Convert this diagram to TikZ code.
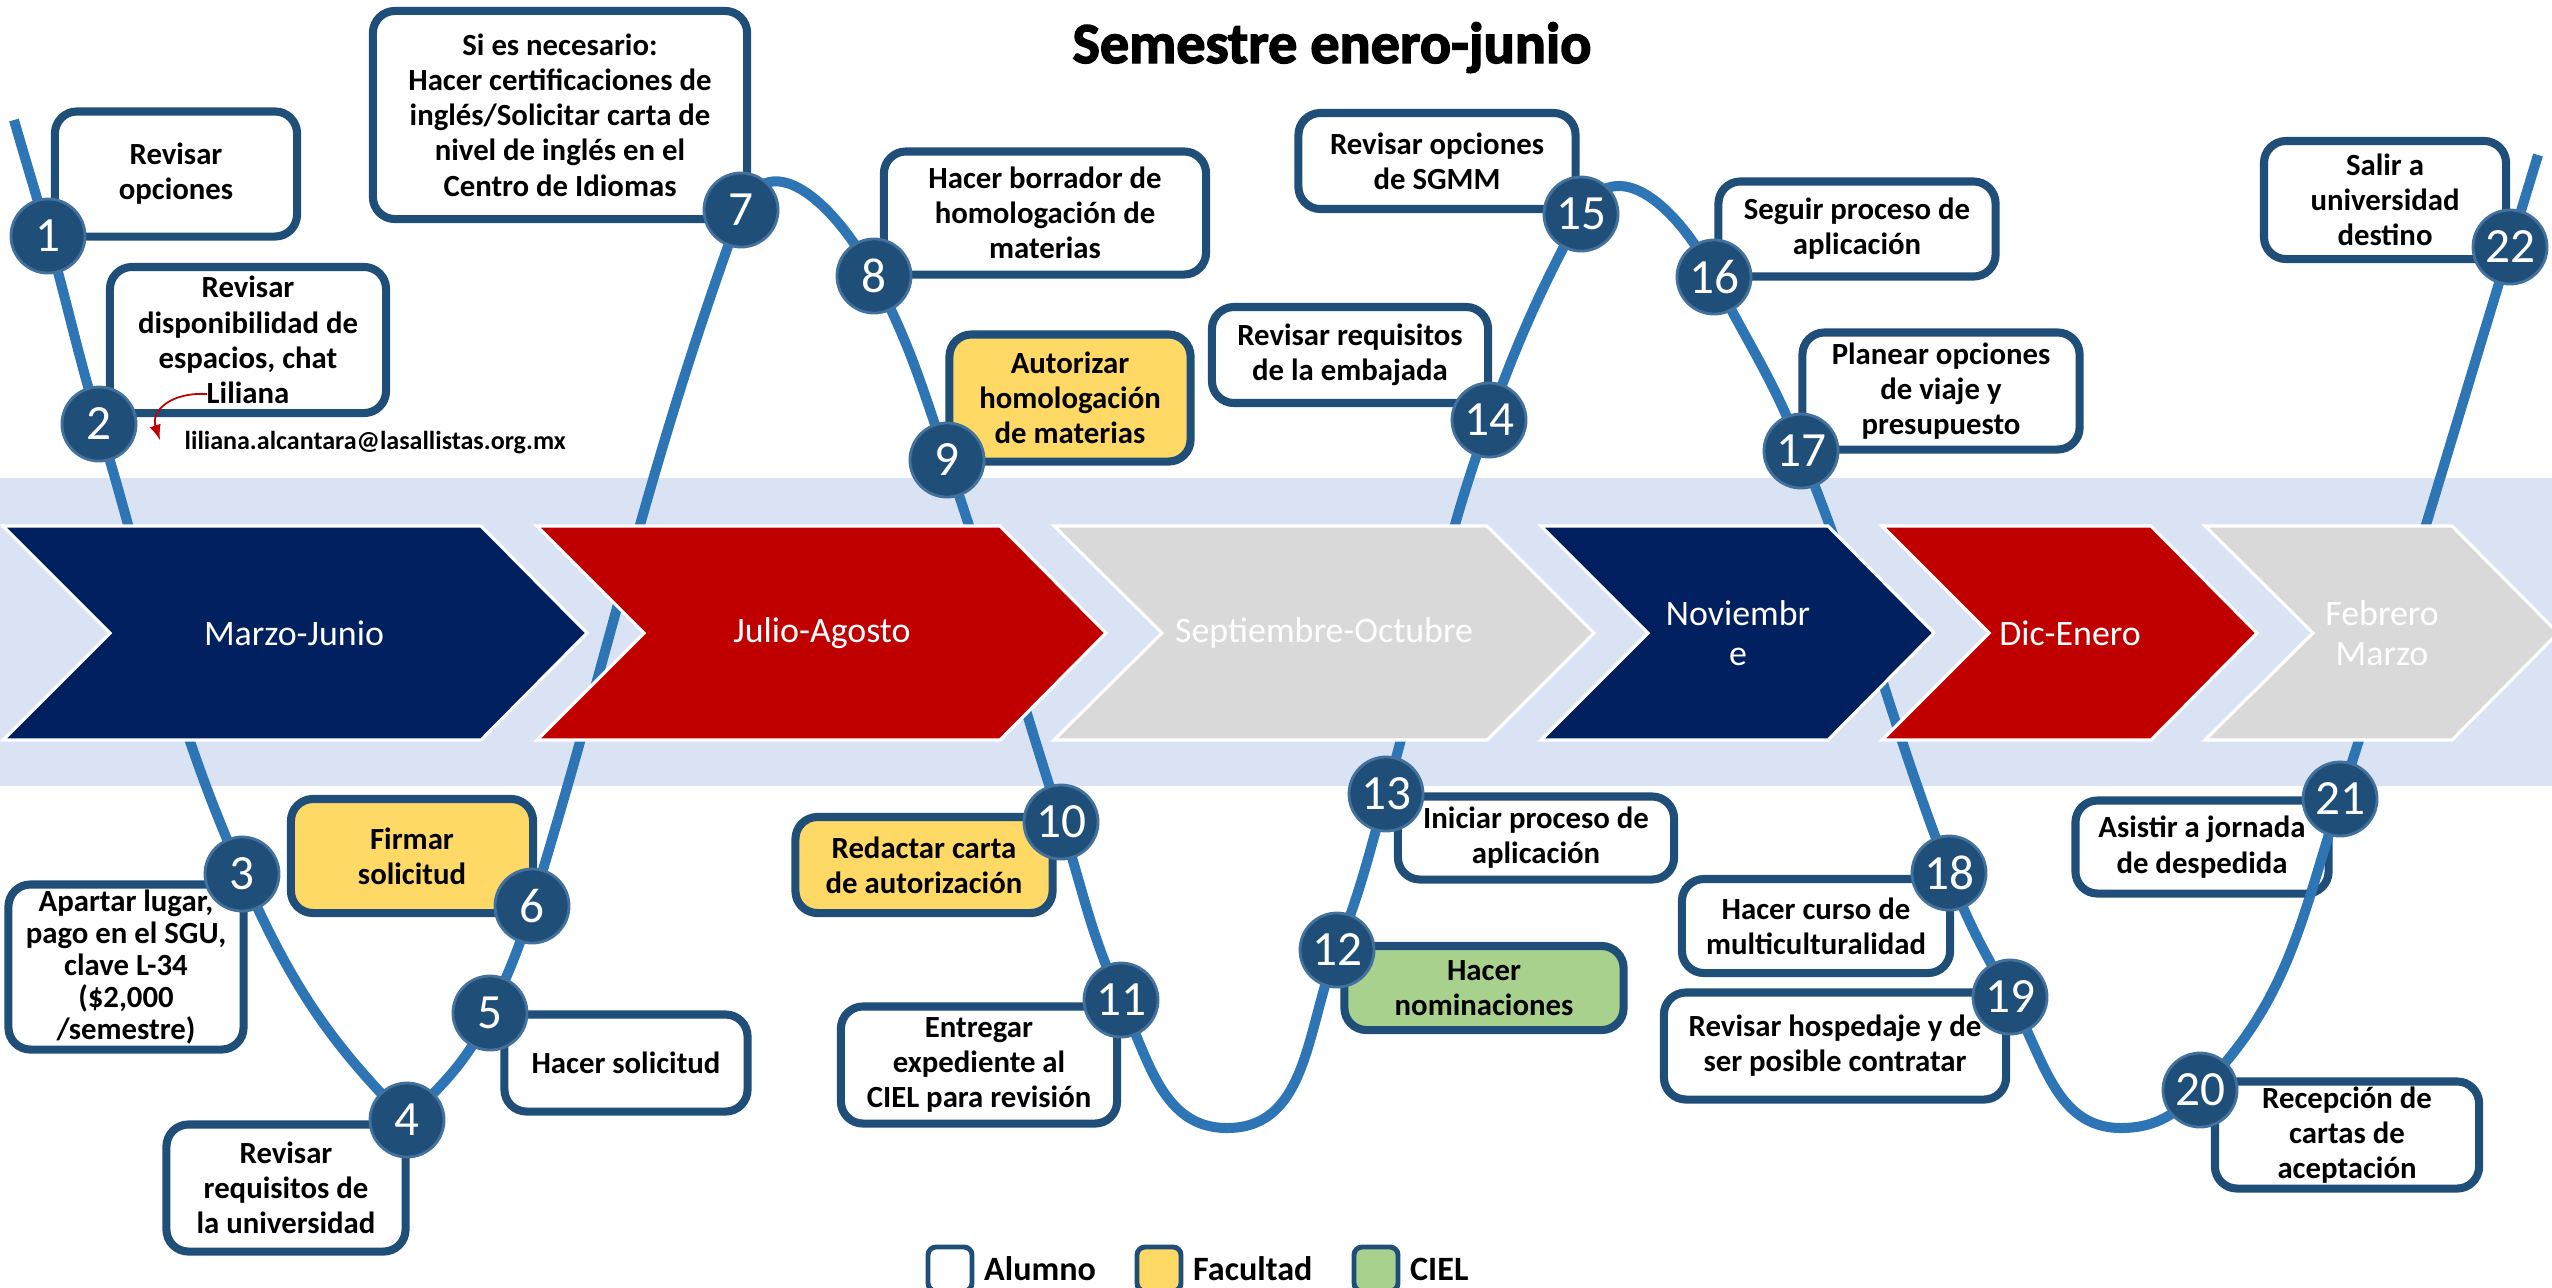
\documentclass[tikz,border=0pt]{standalone}
\usepackage{fontspec}
\setmainfont{Carlito}
\newfontfamily\titlefont{Carlito}[BoldFeatures={FakeBold=2.5}]
\usepackage{tikz}
\usetikzlibrary{positioning}
\definecolor{bandblue}{HTML}{DAE3F3}
\definecolor{navyblue}{HTML}{002060}
\definecolor{darkred}{HTML}{C00000}
\definecolor{lightgrey}{HTML}{D9D9D9}
\definecolor{boxblue}{HTML}{1F4E79}
\definecolor{circblue}{HTML}{1F4E79}
\definecolor{circring}{HTML}{41719C}
\definecolor{pathblue}{HTML}{2E75B6}
\definecolor{facyellow}{HTML}{FFD966}
\definecolor{cielgreen}{HTML}{A9D18E}

\begin{document}
\begin{tikzpicture}[x=0.01cm,y=-0.01cm,
	alumno node/.style={draw=boxblue, line width=2.3pt, rounded corners=0.22cm, fill=white, align=center, inner sep=0pt, font=\fontsize{8.75}{10}\selectfont\bfseries},
	facultad node/.style={alumno node, fill=facyellow},
	ciel node/.style={alumno node, fill=cielgreen},
	number node/.style={circle, fill=circblue, draw=circring, line width=0.8pt, minimum size=0.74cm, inner sep=0pt, text=white, font=\fontsize{14}{14}\selectfont},
	phase text/.style={text=white, align=center, font=\fontsize{10.2}{11.4}\selectfont},
	chevron/.style={draw=white, line width=0.9pt},
	path line/.style={pathblue, line width=2.85pt},
	mail arrow/.style={-latex, darkred, line width=0.5pt},
	legend node/.style={draw=boxblue, line width=1.4pt, rounded corners=0.08cm, minimum width=0.44cm, minimum height=0.44cm, inner sep=0pt},
	legend text/.style={inner sep=0pt, font=\fontsize{9.7}{11}\selectfont\bfseries}]

	\useasboundingbox (0,0) rectangle (2552,1287);
	\fill[bandblue] (0,478) rectangle (2552,786);

	\node[alumno node, minimum width=2.42cm, minimum height=1.25cm] (b1) at (176,174) {Revisar\\opciones};
	\node[alumno node, minimum width=2.76cm, minimum height=1.46cm] (b2) at (248,340) {Revisar\\disponibilidad de\\espacios, chat\\Liliana};
	\node[alumno node, minimum width=2.35cm, minimum height=1.65cm, font=\fontsize{8.75}{9.1}\selectfont\bfseries] (b3) at (126,967) {Apartar lugar,\\pago en el SGU,\\clave L-34\\(\$2,000\\/semestre)};
	\node[alumno node, minimum width=2.39cm, minimum height=1.27cm] (b4) at (286,1188) {Revisar\\requisitos de\\la universidad};
	\node[alumno node, minimum width=2.43cm, minimum height=0.97cm] (b5) at (626,1063) {Hacer solicitud};
	\node[facultad node, minimum width=2.42cm, minimum height=1.14cm] (b6) at (412,856) {Firmar\\solicitud};
	\node[alumno node, minimum width=3.74cm, minimum height=2.08cm] (b7) at (560,115) {Si es necesario:\\Hacer certificaciones de\\inglés/Solicitar carta de\\nivel de inglés en el\\Centro de Idiomas};
	\node[alumno node, minimum width=3.22cm, minimum height=1.23cm] (b8) at (1045,213) {Hacer borrador de\\homologación de\\materias};
	\node[facultad node, minimum width=2.41cm, minimum height=1.27cm] (b9) at (1070,398) {Autorizar\\homologación\\de materias};
	\node[facultad node, minimum width=2.57cm, minimum height=0.96cm] (b10) at (924,865) {Redactar carta\\de autorización};
	\node[alumno node, minimum width=2.76cm, minimum height=1.17cm] (b11) at (979,1065) {Entregar\\expediente al\\CIEL para revisión};
	\node[ciel node, minimum width=2.79cm, minimum height=0.84cm] (b12) at (1484,988) {Hacer\\nominaciones};
	\node[alumno node, minimum width=2.76cm, minimum height=0.83cm] (b13) at (1536,838) {Iniciar proceso de\\aplicación};
	\node[alumno node, minimum width=2.76cm, minimum height=0.96cm] (b14) at (1350,355) {Revisar requisitos\\de la embajada};
	\node[alumno node, minimum width=2.77cm, minimum height=0.96cm] (b15) at (1437,161) {Revisar opciones\\de SGMM};
	\node[alumno node, minimum width=2.77cm, minimum height=0.95cm] (b16) at (1857,229) {Seguir proceso de\\aplicación};
	\node[alumno node, minimum width=2.77cm, minimum height=1.17cm] (b17) at (1941,391) {Planear opciones\\de viaje y\\presupuesto};
	\node[alumno node, minimum width=2.68cm, minimum height=0.94cm] (b18) at (1816,926) {Hacer curso de\\multiculturalidad};
	\node[alumno node, minimum width=3.42cm, minimum height=1.07cm] (b19) at (1835,1046) {Revisar hospedaje y de\\ser posible contratar};
	\node[alumno node, minimum width=2.64cm, minimum height=1.07cm] (b20) at (2347,1135) {Recepción de\\cartas de\\aceptación};
	\node[alumno node, minimum width=2.53cm, minimum height=0.93cm] (b21) at (2202,847) {Asistir a jornada\\de despedida};
	\node[alumno node, minimum width=2.42cm, minimum height=1.18cm] (b22) at (2385,200) {Salir a\\universidad\\destino};

	\coordinate (start) at (14,120);
	\coordinate (c1) at (48,236);
	\coordinate (c2) at (99,424);
	\coordinate (c3) at (242,874);
	\coordinate (c4) at (407,1120);
	\coordinate (c5) at (490,1013);
	\coordinate (c6) at (532,906);
	\coordinate (c7) at (741,210);
	\coordinate (c8) at (874,276);
	\coordinate (c9) at (947,460);
	\coordinate (c10) at (1061,822);
	\coordinate (c11) at (1121,1000);
	\coordinate (low1) at (1227,1128);
	\coordinate (c12) at (1337,950);
	\coordinate (c13) at (1386,794);
	\coordinate (c14) at (1489,420);
	\coordinate (c15) at (1581,214);
	\coordinate (c16) at (1714,277);
	\coordinate (c17) at (1801,451);
	\coordinate (c18) at (1949,873);
	\coordinate (c19) at (2010,997);
	\coordinate (low2) at (2121,1128);
	\coordinate (c20) at (2200,1090);
	\coordinate (c21) at (2340,799);
	\coordinate (c22) at (2510,247);
	\coordinate (finish) at (2538,155);

	\draw[path line] (start) to[out=-74, in=106] (c1)
		to[out=-74, in=107] (c2)
		to[out=-73, in=114] (c3)
		to[out=-66, in=135] (c4)
		to[out=45, in=245] (c5)
		to[out=65, in=253] (c6)
		to[out=73, in=250] (c7)
		to[out=66, in=118, looseness=1.3] (c8)
		to[out=-62, in=109] (c9)
		to[out=-71, in=108] (c10)
		to[out=-72, in=115] (c11)
		to[out=-65, in=180] (low1)
		to[out=0, in=248] (c12)
		to[out=68, in=254] (c13)
		to[out=74, in=250] (c14)
		to[out=70, in=242] (c15)
		to[out=62, in=117, looseness=1.3] (c16)
		to[out=-63, in=111] (c17)
		to[out=-68, in=111] (c18)
		to[out=-69, in=120] (c19)
		to[out=-60, in=180] (low2)
		to[out=0, in=225] (c20)
		to[out=45, in=252] (c21)
		to[out=72, in=253] (c22)
		to[out=73, in=253] (finish);

	\fill[navyblue, chevron] (3,526) -- (481,526) -- (587,633) -- (481,740) -- (3,740) -- (110,633) -- cycle;
	\fill[darkred, chevron] (537,526) -- (1000,526) -- (1106,633) -- (1000,740) -- (537,740) -- (644,633) -- cycle;
	\fill[lightgrey, chevron] (1054,526) -- (1487,526) -- (1594,633) -- (1487,740) -- (1054,740) -- (1162,633) -- cycle;
	\fill[navyblue, chevron] (1541,526) -- (1828,526) -- (1934,633) -- (1828,740) -- (1541,740) -- (1648,633) -- cycle;
	\fill[darkred, chevron] (1882,526) -- (2151,526) -- (2257,633) -- (2151,740) -- (1882,740) -- (1989,633) -- cycle;
	\fill[lightgrey, chevron] (2205,526) -- (2452,526) -- (2558,633) -- (2452,740) -- (2205,740) -- (2313,633) -- cycle;
	\node[phase text] (p1) at (294,633) {Marzo-Junio};
	\node[phase text] (p2) at (822,633) {Julio-Agosto};
	\node[phase text] (p3) at (1324,633) {Septiembre-Octubre};
	\node[phase text] (p4) at (1738,633) {Noviembr\\e};
	\node[phase text] (p5) at (2070,633) {Dic-Enero};
	\node[phase text] (p6) at (2382,633) {Febrero\\Marzo};

	\node[number node] (n1) at (c1) {1};
	\node[number node] (n2) at (c2) {2};
	\node[number node] (n3) at (c3) {3};
	\node[number node] (n4) at (c4) {4};
	\node[number node] (n5) at (c5) {5};
	\node[number node] (n6) at (c6) {6};
	\node[number node] (n7) at (c7) {7};
	\node[number node] (n8) at (c8) {8};
	\node[number node] (n9) at (c9) {9};
	\node[number node] (n10) at (c10) {10};
	\node[number node] (n11) at (c11) {11};
	\node[number node] (n12) at (c12) {12};
	\node[number node] (n13) at (c13) {13};
	\node[number node] (n14) at (c14) {14};
	\node[number node] (n15) at (c15) {15};
	\node[number node] (n16) at (c16) {16};
	\node[number node] (n17) at (c17) {17};
	\node[number node] (n18) at (c18) {18};
	\node[number node] (n19) at (c19) {19};
	\node[number node] (n20) at (c20) {20};
	\node[number node] (n21) at (c21) {21};
	\node[number node] (n22) at (c22) {22};

	\node[anchor=base, font=\titlefont\bfseries\fontsize{16.5}{17}\selectfont] (title) at (1332,63) {Semestre enero-junio};

	\node[anchor=west, inner sep=0pt, font=\fontsize{7.4}{8.5}\selectfont\bfseries] (mail) at (184,443) {liliana.alcantara@lasallistas.org.mx};
	\coordinate (lili) at (207,394);
	\coordinate (mailtip) at (160,440);
	\draw[mail arrow] (lili) .. controls (172,392) and (150,410) .. (mailtip);

	\node[legend node, fill=white] (leg1) at (950,1269) {};
	\node[legend text, right=0.09cm of leg1] (alumno) {Alumno};
	\node[legend node, fill=facyellow] (leg2) at (1159,1269) {};
	\node[legend text, right=0.09cm of leg2] (facultad) {Facultad};
	\node[legend node, fill=cielgreen] (leg3) at (1376,1269) {};
	\node[legend text, right=0.09cm of leg3] (ciel) {CIEL};
\end{tikzpicture}
\end{document}
